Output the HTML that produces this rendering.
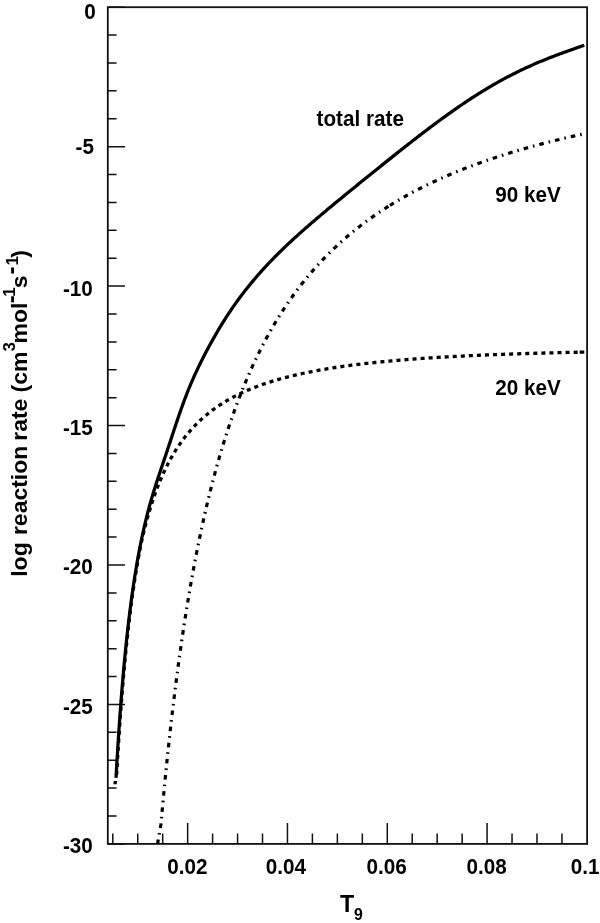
<!DOCTYPE html>
<html><head><meta charset="utf-8"><title>log reaction rate vs T9</title>
<style>
html,body{margin:0;padding:0;background:#fff;}
svg{display:block;font-family:"Liberation Sans",sans-serif;font-weight:bold;fill:#000;}
</style></head><body>
<svg width="600" height="923" viewBox="0 0 600 923">
<rect width="600" height="923" fill="#fff" stroke="none"/>
<rect x="107.8" y="7.2" width="479.30" height="836.70" fill="none" stroke="#111" stroke-width="1.8"/>
<path d="M107.8,7.20h17.2 M107.8,35.09h8.8 M107.8,62.98h8.8 M107.8,90.87h8.8 M107.8,118.76h8.8 M107.8,146.65h17.2 M107.8,174.54h8.8 M107.8,202.43h8.8 M107.8,230.32h8.8 M107.8,258.21h8.8 M107.8,286.10h17.2 M107.8,313.99h8.8 M107.8,341.88h8.8 M107.8,369.77h8.8 M107.8,397.66h8.8 M107.8,425.55h17.2 M107.8,453.44h8.8 M107.8,481.33h8.8 M107.8,509.22h8.8 M107.8,537.11h8.8 M107.8,565.00h17.2 M107.8,592.89h8.8 M107.8,620.78h8.8 M107.8,648.67h8.8 M107.8,676.56h8.8 M107.8,704.45h17.2 M107.8,732.34h8.8 M107.8,760.23h8.8 M107.8,788.12h8.8 M107.8,816.01h8.8 M107.8,843.90h17.2 M112.79,843.9v-10.5 M137.74,843.9v-10.5 M162.70,843.9v-10.5 M187.65,843.9v-21 M212.60,843.9v-10.5 M237.56,843.9v-10.5 M262.51,843.9v-10.5 M287.46,843.9v-21 M312.41,843.9v-10.5 M337.37,843.9v-10.5 M362.32,843.9v-10.5 M387.27,843.9v-21 M412.23,843.9v-10.5 M437.18,843.9v-10.5 M462.13,843.9v-10.5 M487.09,843.9v-21 M512.04,843.9v-10.5 M536.99,843.9v-10.5 M561.94,843.9v-10.5" fill="none" stroke="#111" stroke-width="1.5"/>
<path d="M116.63,774.73 L116.74,772.67 L116.86,770.62 L116.97,768.59 L117.09,766.58 L117.21,764.59 L117.32,762.61 L117.44,760.65 L117.56,758.71 L117.67,756.78 L117.79,754.87 L117.90,752.98 L118.02,751.10 L118.13,749.24 L118.25,747.39 L118.37,745.55 L118.48,743.74 L118.60,741.93 L118.71,740.14 L118.83,738.37 L118.94,736.61 L119.06,734.86 L119.17,733.13 L119.29,731.41 L119.41,729.71 L119.52,728.02 L119.64,726.34 L119.75,724.67 L119.87,723.02 L119.98,721.38 L120.10,719.75 L120.21,718.14 L120.33,716.54 L120.44,714.95 L120.56,713.37 L120.67,711.81 L120.79,710.25 L120.90,708.71 L121.02,707.18 L121.13,705.66 L121.25,704.16 L121.36,702.66 L121.47,701.17 L121.59,699.70 L121.70,698.24 L121.82,696.79 L121.93,695.34 L122.05,693.91 L122.16,692.49 L122.28,691.08 L122.39,689.68 L122.50,688.29 L122.62,686.91 L122.73,685.54 L122.85,684.18 L122.96,682.83 L123.07,681.48 L123.19,680.15 L123.30,678.83 L123.42,677.51 L123.53,676.21 L123.64,674.91 L123.76,673.63 L123.87,672.35 L123.99,671.08 L124.10,669.82 L124.21,668.57 L124.33,667.33 L124.44,666.09 L124.55,664.86 L124.67,663.65 L124.78,662.44 L124.89,661.23 L125.06,659.45 L125.23,657.68 L125.40,655.92 L125.57,654.19 L125.74,652.47 L125.91,650.77 L126.08,649.08 L126.25,647.42 L126.42,645.76 L126.59,644.13 L126.76,642.51 L126.93,640.90 L127.10,639.31 L127.26,637.73 L127.43,636.17 L127.60,634.63 L127.77,633.10 L127.94,631.58 L128.11,630.08 L128.28,628.59 L128.44,627.11 L128.61,625.65 L128.78,624.20 L128.95,622.76 L129.12,621.34 L129.28,619.93 L129.45,618.53 L129.62,617.14 L129.79,615.77 L129.95,614.41 L130.12,613.06 L130.29,611.72 L130.45,610.39 L130.62,609.08 L130.79,607.77 L130.95,606.48 L131.12,605.20 L131.29,603.93 L131.45,602.67 L131.62,601.42 L131.79,600.18 L131.95,598.96 L132.12,597.74 L132.29,596.53 L132.45,595.33 L132.67,593.75 L132.89,592.19 L133.11,590.64 L133.34,589.11 L133.56,587.59 L133.78,586.10 L134.00,584.61 L134.22,583.15 L134.44,581.70 L134.66,580.26 L134.88,578.84 L135.09,577.43 L135.31,576.04 L135.53,574.67 L135.75,573.30 L135.97,571.95 L136.19,570.62 L136.41,569.30 L136.63,567.99 L136.84,566.69 L137.06,565.41 L137.28,564.14 L137.50,562.88 L137.71,561.64 L137.93,560.40 L138.15,559.18 L138.37,557.97 L138.58,556.78 L138.80,555.59 L139.07,554.12 L139.34,552.67 L139.61,551.24 L139.88,549.83 L140.15,548.43 L140.42,547.05 L140.69,545.68 L140.95,544.33 L141.22,542.99 L141.52,541.67 L141.81,540.37 L142.10,539.08 L142.40,537.80 L142.69,536.54 L142.99,535.29 L143.28,534.06 L143.57,532.84 L143.87,531.63 L144.16,530.43 L144.46,529.25 L144.75,528.08 L145.10,526.70 L145.46,525.33 L145.81,523.98 L146.16,522.65 L146.51,521.33 L146.87,520.03 L147.22,518.74 L147.57,517.47 L147.92,516.22 L148.28,514.98 L148.63,513.76 L148.98,512.55 L149.34,511.36 L149.69,510.18 L150.04,509.01 L150.39,507.86 L150.81,506.53 L151.22,505.22 L151.63,503.93 L152.04,502.66 L152.45,501.40 L152.86,500.16 L153.27,498.94 L153.69,497.73 L154.10,496.53 L154.51,495.36 L154.92,494.20 L155.33,493.05 L155.74,491.92 L156.21,490.64 L156.69,489.38 L157.16,488.14 L157.63,486.92 L158.10,485.71 L158.57,484.52 L159.04,483.35 L159.51,482.19 L159.98,481.05 L160.45,479.93 L160.92,478.82 L161.45,477.59 L161.98,476.38 L162.51,475.18 L163.03,474.01 L163.56,472.85 L164.09,471.71 L164.62,470.58 L165.15,469.47 L165.68,468.38 L166.21,467.30 L166.80,466.12 L167.39,464.96 L167.97,463.82 L168.56,462.69 L169.15,461.58 L169.74,460.49 L170.33,459.42 L170.91,458.36 L171.56,457.21 L172.21,456.09 L172.85,454.98 L173.50,453.89 L174.15,452.81 L174.79,451.75 L175.44,450.71 L176.09,449.69 L176.79,448.59 L177.50,447.51 L178.20,446.45 L178.91,445.40 L179.62,444.37 L180.32,443.36 L181.03,442.37 L181.73,441.39 L182.50,440.34 L183.26,439.32 L184.02,438.31 L184.79,437.32 L185.55,436.35 L186.32,435.39 L187.08,434.45 L187.85,433.52 L188.67,432.54 L189.49,431.58 L190.32,430.63 L191.14,429.70 L191.96,428.78 L192.79,427.88 L193.61,427.00 L194.49,426.07 L195.37,425.15 L196.25,424.25 L197.14,423.37 L198.02,422.50 L198.90,421.65 L199.78,420.81 L200.66,419.99 L201.60,419.12 L202.55,418.28 L203.49,417.44 L204.43,416.62 L205.37,415.82 L206.31,415.03 L207.25,414.25 L208.19,413.49 L209.13,412.74 L210.13,411.95 L211.13,411.19 L212.13,410.43 L213.13,409.69 L214.13,408.96 L215.13,408.24 L216.13,407.53 L217.13,406.84 L218.13,406.16 L219.13,405.49 L220.18,404.79 L221.24,404.11 L222.30,403.43 L223.36,402.77 L224.42,402.12 L225.48,401.48 L226.53,400.85 L227.59,400.24 L228.65,399.63 L229.71,399.03 L230.77,398.45 L231.82,397.87 L232.88,397.30 L234.00,396.71 L235.12,396.13 L236.23,395.56 L237.35,395.00 L238.47,394.45 L239.59,393.90 L240.70,393.37 L241.82,392.85 L242.94,392.33 L244.05,391.82 L245.17,391.32 L246.29,390.83 L247.41,390.35 L248.52,389.87 L249.64,389.40 L250.76,388.94 L251.87,388.49 L252.99,388.04 L254.11,387.60 L255.28,387.14 L256.46,386.69 L257.64,386.25 L258.81,385.81 L259.99,385.39 L261.16,384.96 L262.34,384.55 L263.52,384.14 L264.69,383.74 L265.87,383.34 L267.04,382.95 L268.22,382.57 L269.39,382.19 L270.57,381.81 L271.75,381.45 L272.92,381.08 L274.10,380.73 L275.27,380.37 L276.45,380.03 L277.63,379.69 L278.80,379.35 L279.98,379.02 L281.15,378.69 L282.33,378.37 L283.51,378.05 L284.68,377.73 L285.86,377.42 L287.03,377.12 L288.21,376.82 L289.39,376.52 L290.56,376.23 L291.74,375.94 L292.91,375.66 L294.09,375.37 L295.26,375.10 L296.44,374.82 L297.62,374.55 L298.79,374.29 L299.97,374.03 L301.14,373.77 L302.32,373.51 L303.50,373.26 L304.67,373.01 L305.85,372.76 L307.02,372.52 L308.20,372.28 L309.43,372.03 L310.67,371.79 L311.90,371.54 L313.14,371.31 L314.37,371.07 L315.61,370.84 L316.84,370.61 L318.08,370.38 L319.31,370.16 L320.55,369.94 L321.78,369.72 L323.02,369.50 L324.25,369.29 L325.49,369.08 L326.72,368.88 L327.95,368.67 L329.19,368.47 L330.42,368.27 L331.66,368.07 L332.89,367.88 L334.13,367.69 L335.36,367.50 L336.60,367.31 L337.83,367.13 L339.07,366.94 L340.30,366.76 L341.54,366.58 L342.77,366.41 L344.01,366.23 L345.24,366.06 L346.47,365.89 L347.71,365.72 L348.94,365.56 L350.18,365.40 L351.41,365.23 L352.65,365.07 L353.88,364.92 L355.12,364.76 L356.35,364.60 L357.59,364.45 L358.82,364.30 L360.06,364.15 L361.29,364.00 L362.53,363.86 L363.76,363.72 L365.00,363.57 L366.23,363.43 L367.46,363.29 L368.70,363.16 L369.93,363.02 L371.17,362.88 L372.40,362.75 L373.64,362.62 L374.87,362.49 L376.11,362.36 L377.34,362.23 L378.58,362.11 L379.81,361.98 L381.05,361.86 L382.28,361.74 L383.52,361.62 L384.75,361.50 L385.98,361.38 L387.22,361.27 L388.45,361.15 L389.69,361.04 L390.92,360.92 L392.16,360.81 L393.39,360.70 L394.63,360.59 L395.86,360.49 L397.10,360.38 L398.33,360.27 L399.57,360.17 L400.80,360.07 L402.04,359.96 L403.27,359.86 L404.51,359.76 L405.74,359.66 L406.97,359.57 L408.21,359.47 L409.44,359.37 L410.68,359.28 L411.91,359.18 L413.15,359.09 L414.38,359.00 L415.62,358.91 L416.85,358.82 L418.09,358.73 L419.32,358.64 L420.56,358.55 L421.79,358.47 L423.03,358.38 L424.26,358.29 L425.50,358.21 L426.73,358.13 L427.96,358.05 L429.20,357.96 L430.43,357.88 L431.67,357.80 L432.90,357.72 L434.14,357.65 L435.37,357.57 L436.61,357.49 L437.84,357.42 L439.08,357.34 L440.31,357.27 L441.55,357.19 L442.78,357.12 L444.02,357.05 L445.25,356.98 L446.48,356.91 L447.72,356.84 L448.95,356.77 L450.19,356.70 L451.42,356.63 L452.66,356.56 L453.89,356.50 L455.13,356.43 L456.36,356.37 L457.60,356.30 L458.83,356.24 L460.07,356.17 L461.30,356.11 L462.54,356.05 L463.77,355.99 L465.01,355.93 L466.24,355.87 L467.47,355.81 L468.71,355.75 L469.94,355.69 L471.18,355.63 L472.41,355.57 L473.65,355.52 L474.88,355.46 L476.12,355.40 L477.35,355.35 L478.59,355.29 L479.82,355.24 L481.06,355.19 L482.29,355.13 L483.53,355.08 L484.76,355.03 L486.00,354.98 L487.23,354.92 L488.46,354.87 L489.70,354.82 L490.93,354.77 L492.17,354.72 L493.40,354.68 L494.64,354.63 L495.87,354.58 L497.11,354.53 L498.34,354.48 L499.58,354.44 L500.81,354.39 L502.05,354.35 L503.28,354.30 L504.52,354.26 L505.75,354.21 L506.98,354.17 L508.22,354.12 L509.45,354.08 L510.69,354.04 L511.92,354.00 L513.16,353.95 L514.39,353.91 L515.63,353.87 L516.86,353.83 L518.10,353.79 L519.33,353.75 L520.57,353.71 L521.80,353.67 L523.04,353.63 L524.27,353.59 L525.51,353.56 L526.74,353.52 L527.97,353.48 L529.21,353.44 L530.44,353.41 L531.68,353.37 L532.91,353.33 L534.15,353.30 L535.38,353.26 L536.62,353.23 L537.85,353.19 L539.09,353.16 L540.32,353.12 L541.56,353.09 L542.79,353.06 L544.03,353.02 L545.26,352.99 L546.49,352.96 L547.73,352.93 L548.96,352.89 L550.20,352.86 L551.43,352.83 L552.67,352.80 L553.90,352.77 L555.14,352.74 L556.37,352.71 L557.61,352.68 L558.84,352.65 L560.08,352.62 L561.31,352.59 L562.55,352.56 L563.78,352.53 L565.02,352.51 L566.25,352.48 L567.48,352.45 L568.72,352.42 L569.95,352.40 L571.19,352.37 L572.42,352.34 L573.66,352.32 L574.89,352.29 L576.13,352.26 L577.36,352.24 L578.19,352.22" fill="none" stroke="#000" stroke-width="3.3" stroke-dasharray="4.0310 4.0310" stroke-dashoffset="0.237"/>
<path d="M579.66,352.19 L580.89,352.17 L582.12,352.14 L583.36,352.12 L584.30,352.10" fill="none" stroke="#000" stroke-width="3.3"/>
<path d="M115.12,784.24 L115.24,782.10 L115.30,781.03" fill="none" stroke="#000" stroke-width="3.3"/>
<path d="M157.72,843.44 L157.83,842.18 L158.03,840.91 L158.25,839.65 L158.47,838.40 L158.69,837.14 L158.90,835.90 L159.12,834.65 L159.34,833.41 L159.55,832.17 L159.77,830.94 L159.99,829.71 L160.20,828.48 L160.42,827.26 L160.63,826.04 L160.85,824.82 L161.03,823.61 L161.13,822.40 L161.24,821.20 L161.35,820.00 L161.45,818.80 L161.61,817.01 L161.77,815.22 L161.93,813.45 L162.09,811.68 L162.25,809.92 L162.41,808.17 L162.57,806.43 L162.73,804.69 L162.89,802.96 L163.05,801.24 L163.21,799.52 L163.37,797.82 L163.53,796.12 L163.69,794.42 L163.85,792.74 L164.01,791.06 L164.17,789.39 L164.33,787.72 L164.49,786.07 L164.65,784.42 L164.81,782.77 L164.97,781.14 L165.13,779.51 L165.29,777.89 L165.45,776.27 L165.61,774.66 L165.77,773.06 L165.93,771.46 L166.09,769.87 L166.25,768.29 L166.41,766.71 L166.57,765.14 L166.73,763.58 L166.89,762.02 L167.04,760.47 L167.20,758.93 L167.36,757.39 L167.52,755.86 L167.68,754.33 L167.84,752.81 L168.00,751.30 L168.16,749.79 L168.32,748.29 L168.48,746.80 L168.64,745.31 L168.80,743.83 L168.96,742.35 L169.12,740.88 L169.28,739.41 L169.44,737.95 L169.60,736.50 L169.76,735.05 L169.92,733.61 L170.08,732.17 L170.24,730.74 L170.40,729.31 L170.56,727.89 L170.72,726.48 L170.88,725.07 L171.04,723.67 L171.20,722.27 L171.36,720.88 L171.52,719.49 L171.68,718.11 L171.84,716.73 L172.00,715.36 L172.16,713.99 L172.32,712.63 L172.48,711.28 L172.64,709.93 L172.80,708.58 L172.96,707.24 L173.12,705.91 L173.28,704.58 L173.44,703.25 L173.60,701.93 L173.76,700.62 L173.91,699.31 L174.07,698.00 L174.23,696.70 L174.39,695.40 L174.55,694.11 L174.71,692.83 L174.87,691.55 L175.03,690.27 L175.19,689.00 L175.35,687.73 L175.51,686.47 L175.67,685.21 L175.83,683.96 L175.99,682.71 L176.15,681.47 L176.31,680.23 L176.47,679.00 L176.63,677.77 L176.79,676.54 L176.95,675.32 L177.11,674.10 L177.27,672.89 L177.43,671.68 L177.59,670.48 L177.75,669.28 L177.91,668.08 L178.07,666.89 L178.28,665.31 L178.49,663.74 L178.71,662.17 L178.92,660.61 L179.13,659.06 L179.35,657.52 L179.56,655.98 L179.77,654.45 L179.99,652.93 L180.20,651.42 L180.41,649.91 L180.63,648.41 L180.84,646.91 L181.05,645.43 L181.26,643.95 L181.48,642.47 L181.69,641.01 L181.90,639.55 L182.12,638.09 L182.33,636.65 L182.54,635.21 L182.76,633.78 L182.97,632.35 L183.18,630.93 L183.39,629.51 L183.61,628.11 L183.82,626.71 L184.03,625.31 L184.25,623.92 L184.46,622.54 L184.67,621.16 L184.89,619.79 L185.10,618.43 L185.31,617.07 L185.52,615.72 L185.74,614.37 L185.95,613.03 L186.16,611.70 L186.38,610.37 L186.59,609.05 L186.80,607.73 L187.02,606.42 L187.23,605.12 L187.44,603.82 L187.66,602.52 L187.87,601.23 L188.08,599.95 L188.29,598.67 L188.51,597.40 L188.72,596.14 L188.93,594.87 L189.15,593.62 L189.36,592.37 L189.57,591.12 L189.79,589.88 L190.00,588.65 L190.21,587.42 L190.42,586.20 L190.64,584.98 L190.85,583.76 L191.06,582.56 L191.28,581.35 L191.49,580.15 L191.70,578.96 L191.92,577.77 L192.13,576.59 L192.39,575.11 L192.66,573.65 L192.93,572.19 L193.19,570.74 L193.46,569.30 L193.73,567.86 L193.99,566.44 L194.26,565.02 L194.53,563.60 L194.79,562.20 L195.06,560.80 L195.32,559.40 L195.59,558.02 L195.86,556.64 L196.12,555.27 L196.39,553.91 L196.66,552.55 L196.92,551.20 L197.19,549.85 L197.45,548.51 L197.72,547.18 L197.99,545.86 L198.25,544.54 L198.52,543.23 L198.79,541.92 L199.05,540.63 L199.32,539.33 L199.58,538.05 L199.85,536.77 L200.12,535.49 L200.38,534.23 L200.65,532.96 L200.92,531.71 L201.18,530.46 L201.45,529.21 L201.71,527.98 L201.98,526.75 L202.25,525.52 L202.51,524.30 L202.78,523.08 L203.05,521.88 L203.31,520.67 L203.58,519.47 L203.85,518.28 L204.11,517.10 L204.38,515.92 L204.64,514.74 L204.96,513.34 L205.28,511.94 L205.60,510.55 L205.92,509.17 L206.24,507.80 L206.56,506.44 L206.88,505.08 L207.20,503.73 L207.52,502.39 L207.84,501.05 L208.16,499.72 L208.48,498.40 L208.80,497.09 L209.12,495.78 L209.44,494.48 L209.76,493.19 L210.08,491.90 L210.40,490.62 L210.72,489.35 L211.03,488.08 L211.35,486.82 L211.67,485.57 L211.99,484.33 L212.31,483.09 L212.63,481.85 L212.95,480.63 L213.27,479.41 L213.59,478.19 L213.91,476.99 L214.23,475.78 L214.55,474.59 L214.87,473.40 L215.19,472.22 L215.51,471.04 L215.83,469.87 L216.15,468.70 L216.47,467.54 L216.84,466.20 L217.21,464.86 L217.59,463.53 L217.96,462.21 L218.33,460.90 L218.70,459.59 L219.08,458.29 L219.45,457.00 L219.82,455.72 L220.19,454.44 L220.57,453.17 L220.94,451.91 L221.31,450.66 L221.69,449.41 L222.06,448.17 L222.43,446.94 L222.80,445.71 L223.18,444.49 L223.55,443.28 L223.92,442.07 L224.30,440.87 L224.67,439.68 L225.04,438.50 L225.41,437.32 L225.79,436.14 L226.16,434.98 L226.53,433.82 L226.91,432.66 L227.28,431.52 L227.65,430.38 L228.08,429.08 L228.50,427.79 L228.93,426.51 L229.36,425.24 L229.78,423.97 L230.21,422.72 L230.63,421.47 L231.06,420.23 L231.49,418.99 L231.91,417.77 L232.34,416.55 L232.76,415.33 L233.19,414.13 L233.62,412.93 L234.04,411.74 L234.47,410.56 L234.89,409.38 L235.32,408.21 L235.75,407.05 L236.17,405.89 L236.60,404.74 L237.02,403.60 L237.45,402.47 L237.88,401.34 L238.30,400.22 L238.78,398.96 L239.26,397.71 L239.74,396.48 L240.22,395.24 L240.70,394.02 L241.18,392.81 L241.66,391.60 L242.14,390.40 L242.62,389.21 L243.10,388.02 L243.57,386.85 L244.05,385.68 L244.53,384.51 L245.01,383.36 L245.49,382.21 L245.97,381.07 L246.45,379.94 L246.93,378.81 L247.41,377.69 L247.89,376.58 L248.37,375.47 L248.90,374.25 L249.43,373.04 L249.97,371.83 L250.50,370.64 L251.03,369.45 L251.56,368.27 L252.10,367.09 L252.63,365.93 L253.16,364.77 L253.69,363.62 L254.23,362.48 L254.76,361.34 L255.29,360.22 L255.82,359.10 L256.36,357.98 L256.89,356.88 L257.42,355.78 L257.95,354.69 L258.49,353.60 L259.02,352.53 L259.60,351.35 L260.19,350.18 L260.78,349.02 L261.36,347.87 L261.95,346.72 L262.53,345.59 L263.12,344.46 L263.71,343.33 L264.29,342.22 L264.88,341.11 L265.46,340.02 L266.05,338.92 L266.63,337.84 L267.22,336.76 L267.81,335.69 L268.39,334.63 L268.98,333.58 L269.56,332.53 L270.20,331.39 L270.84,330.26 L271.48,329.15 L272.12,328.03 L272.76,326.93 L273.40,325.83 L274.04,324.75 L274.68,323.67 L275.32,322.59 L275.95,321.53 L276.59,320.47 L277.23,319.42 L277.87,318.38 L278.51,317.34 L279.15,316.31 L279.79,315.29 L280.48,314.19 L281.17,313.10 L281.87,312.02 L282.56,310.94 L283.25,309.87 L283.94,308.81 L284.64,307.76 L285.33,306.72 L286.02,305.68 L286.71,304.65 L287.40,303.63 L288.10,302.61 L288.79,301.61 L289.48,300.61 L290.17,299.61 L290.87,298.63 L291.61,297.57 L292.36,296.53 L293.10,295.49 L293.85,294.46 L294.59,293.43 L295.34,292.42 L296.09,291.41 L296.83,290.41 L297.58,289.42 L298.32,288.43 L299.07,287.45 L299.81,286.48 L300.56,285.51 L301.30,284.56 L302.05,283.61 L302.80,282.66 L303.59,281.66 L304.39,280.66 L305.19,279.67 L305.99,278.69 L306.79,277.72 L307.59,276.75 L308.39,275.79 L309.19,274.84 L309.99,273.89 L310.78,272.96 L311.58,272.02 L312.38,271.10 L313.18,270.18 L313.98,269.27 L314.78,268.37 L315.58,267.47 L316.43,266.52 L317.28,265.58 L318.13,264.64 L318.99,263.71 L319.84,262.79 L320.69,261.88 L321.54,260.97 L322.39,260.07 L323.25,259.17 L324.10,258.29 L324.95,257.41 L325.80,256.53 L326.66,255.66 L327.51,254.80 L328.36,253.95 L329.21,253.10 L330.12,252.20 L331.02,251.32 L331.93,250.43 L332.83,249.56 L333.74,248.69 L334.64,247.83 L335.55,246.98 L336.45,246.13 L337.36,245.29 L338.26,244.45 L339.17,243.62 L340.08,242.80 L340.98,241.98 L341.89,241.17 L342.79,240.37 L343.70,239.57 L344.60,238.77 L345.56,237.94 L346.52,237.11 L347.48,236.29 L348.44,235.48 L349.40,234.67 L350.35,233.87 L351.31,233.07 L352.27,232.28 L353.23,231.50 L354.19,230.72 L355.15,229.95 L356.11,229.18 L357.06,228.42 L358.02,227.67 L358.98,226.92 L359.94,226.17 L360.90,225.43 L361.86,224.70 L362.82,223.97 L363.77,223.25 L364.79,222.49 L365.80,221.74 L366.81,221.00 L367.82,220.26 L368.83,219.52 L369.85,218.79 L370.86,218.07 L371.87,217.35 L372.88,216.64 L373.89,215.93 L374.91,215.23 L375.92,214.53 L376.93,213.84 L377.94,213.15 L378.95,212.47 L379.96,211.79 L380.98,211.12 L381.99,210.45 L383.00,209.79 L384.01,209.13 L385.02,208.48 L386.04,207.83 L387.10,207.15 L388.17,206.48 L388.81,206.08" fill="none" stroke="#000" stroke-width="3.2" stroke-dasharray="4.6 5.011 1.6 5.011" stroke-dashoffset="0.550"/>
<path d="M389.87,205.41 L390.94,204.75 L392.00,204.10 L393.07,203.45 L394.13,202.80 L395.20,202.16 L396.26,201.53 L397.33,200.90 L398.39,200.27 L399.46,199.65 L400.52,199.03 L401.59,198.41 L402.65,197.81 L403.72,197.20 L404.78,196.60 L405.85,196.00 L406.91,195.41 L407.98,194.82 L409.04,194.24 L410.11,193.66 L411.17,193.08 L412.24,192.51 L413.30,191.94 L414.37,191.38 L415.43,190.82 L416.50,190.26 L417.62,189.68 L418.74,189.11 L419.85,188.53 L420.97,187.97 L422.09,187.40 L423.21,186.84 L424.33,186.29 L425.45,185.73 L426.56,185.19 L427.68,184.64 L428.80,184.10 L429.92,183.56 L431.04,183.03 L432.16,182.50 L433.27,181.98 L434.39,181.45 L435.51,180.93 L436.63,180.42 L437.75,179.91 L438.87,179.40 L439.99,178.89 L441.10,178.39 L442.22,177.89 L443.34,177.40 L444.46,176.91 L445.58,176.42 L446.70,175.93 L447.81,175.45 L448.93,174.97 L450.05,174.50 L451.17,174.02 L452.29,173.55 L453.41,173.09 L454.52,172.62 L455.64,172.16 L456.76,171.71 L457.88,171.25 L459.00,170.80 L460.12,170.35 L461.23,169.91 L462.35,169.46 L463.47,169.02 L464.59,168.58 L465.76,168.13 L466.93,167.68 L468.10,167.23 L469.28,166.78 L470.45,166.34 L471.62,165.90 L472.79,165.46 L473.96,165.02 L475.13,164.59 L476.31,164.16 L477.48,163.73 L478.65,163.31 L479.82,162.89 L480.99,162.47 L482.16,162.05 L483.34,161.64 L484.51,161.23 L485.68,160.82 L486.85,160.42 L488.02,160.01 L489.19,159.61 L490.37,159.21 L491.54,158.82 L492.71,158.42 L493.88,158.03 L495.05,157.65 L496.22,157.26 L497.40,156.88 L498.57,156.49 L499.74,156.12 L500.91,155.74 L502.08,155.36 L503.25,154.99 L504.43,154.62 L505.60,154.25 L506.77,153.89 L507.94,153.53 L509.11,153.16 L510.28,152.81 L511.46,152.45 L512.63,152.09 L513.80,151.74 L514.97,151.39 L516.14,151.04 L517.31,150.69 L518.49,150.35 L519.66,150.01 L520.83,149.67 L522.00,149.33 L523.17,148.99 L524.34,148.66 L525.52,148.32 L526.69,147.99 L527.86,147.66 L529.03,147.34 L530.20,147.01 L531.37,146.69 L532.55,146.37 L533.72,146.05 L534.89,145.73 L536.06,145.41 L537.23,145.10 L538.40,144.79 L539.58,144.48 L540.75,144.17 L541.92,143.86 L543.09,143.55 L544.26,143.25 L545.43,142.95 L546.61,142.65 L547.78,142.35 L548.95,142.05 L550.12,141.75 L551.29,141.46 L552.46,141.17 L553.63,140.88 L554.81,140.59 L555.98,140.30 L557.15,140.01 L558.32,139.73 L559.49,139.44 L560.66,139.16 L561.84,138.88 L563.01,138.60 L564.18,138.33 L565.35,138.05 L566.52,137.78 L567.69,137.50 L568.87,137.23 L570.04,136.96 L571.21,136.69 L572.38,136.43 L573.55,136.16 L574.72,135.90 L575.90,135.63 L577.07,135.37 L578.24,135.11 L579.46,134.84 L580.69,134.57 L581.91,134.30 L582.50,134.18" fill="none" stroke="#000" stroke-width="3.2" stroke-dasharray="4.6 5.000 1.6 5.000" stroke-dashoffset="0.047"/>
<path d="M116.00,777.90 L116.12,775.79 L116.23,773.69 L116.35,771.61 L116.47,769.55 L116.59,767.51 L116.70,765.48 L116.82,763.47 L116.94,761.48 L117.06,759.50 L117.18,757.54 L117.29,755.60 L117.41,753.67 L117.53,751.75 L117.65,749.86 L117.76,747.97 L117.88,746.10 L118.00,744.25 L118.12,742.41 L118.23,740.59 L118.35,738.78 L118.47,736.98 L118.59,735.20 L118.70,733.44 L118.82,731.68 L118.94,729.94 L119.06,728.21 L119.17,726.50 L119.29,724.80 L119.41,723.11 L119.53,721.44 L119.65,719.77 L119.76,718.12 L119.88,716.49 L120.00,714.86 L120.12,713.25 L120.23,711.65 L120.35,710.06 L120.47,708.48 L120.59,706.91 L120.70,705.36 L120.82,703.82 L120.94,702.28 L121.06,700.76 L121.17,699.25 L121.29,697.75 L121.41,696.26 L121.53,694.79 L121.64,693.32 L121.76,691.86 L121.88,690.41 L122.00,688.98 L122.11,687.55 L122.23,686.13 L122.35,684.73 L122.47,683.33 L122.59,681.94 L122.70,680.57 L122.82,679.20 L122.94,677.84 L123.06,676.49 L123.17,675.15 L123.29,673.82 L123.41,672.49 L123.53,671.18 L123.64,669.88 L123.76,668.58 L123.88,667.29 L124.00,666.02 L124.11,664.74 L124.23,663.48 L124.35,662.23 L124.47,660.98 L124.58,659.75 L124.70,658.52 L124.82,657.30 L124.94,656.08 L125.05,654.88 L125.17,653.68 L125.41,651.31 L125.64,648.97 L125.88,646.66 L126.11,644.37 L126.35,642.12 L126.58,639.89 L126.82,637.69 L127.05,635.52 L127.29,633.38 L127.52,631.26 L127.76,629.16 L127.99,627.10 L128.23,625.05 L128.47,623.03 L128.70,621.04 L128.94,619.07 L129.17,617.12 L129.41,615.19 L129.64,613.29 L129.88,611.40 L130.11,609.54 L130.35,607.70 L130.58,605.88 L130.82,604.09 L131.05,602.31 L131.29,600.55 L131.52,598.81 L131.76,597.09 L131.99,595.39 L132.23,593.71 L132.46,592.04 L132.70,590.40 L132.93,588.77 L133.17,587.16 L133.40,585.56 L133.64,583.99 L133.88,582.43 L134.11,580.88 L134.35,579.35 L134.58,577.84 L134.82,576.34 L135.05,574.86 L135.29,573.40 L135.52,571.94 L135.76,570.51 L135.99,569.09 L136.23,567.68 L136.46,566.28 L136.70,564.90 L136.93,563.54 L137.17,562.18 L137.40,560.84 L137.64,559.52 L137.87,558.20 L138.11,556.90 L138.34,555.61 L138.58,554.34 L138.81,553.07 L139.05,551.82 L139.28,550.58 L139.52,549.35 L139.76,548.13 L139.99,546.93 L140.23,545.73 L140.46,544.55 L140.81,542.79 L141.17,541.06 L141.52,539.35 L141.87,537.67 L142.23,536.00 L142.58,534.36 L142.93,532.74 L143.28,531.14 L143.64,529.56 L143.99,528.01 L144.34,526.47 L144.69,524.95 L145.05,523.45 L145.40,521.97 L145.75,520.51 L146.11,519.06 L146.46,517.63 L146.81,516.22 L147.16,514.83 L147.52,513.45 L147.87,512.09 L148.22,510.74 L148.58,509.41 L148.93,508.09 L149.28,506.79 L149.63,505.50 L149.99,504.22 L150.34,502.96 L150.69,501.71 L151.05,500.48 L151.40,499.25 L151.75,498.04 L152.10,496.84 L152.46,495.65 L152.81,494.47 L153.16,493.30 L153.52,492.14 L153.87,490.99 L154.34,489.47 L154.81,487.97 L155.28,486.48 L155.75,485.00 L156.22,483.53 L156.69,482.08 L157.16,480.64 L157.63,479.20 L158.10,477.78 L158.57,476.36 L159.04,474.95 L159.51,473.54 L159.98,472.14 L160.45,470.74 L160.92,469.35 L161.39,467.95 L161.86,466.56 L162.34,465.17 L162.81,463.78 L163.28,462.39 L163.75,460.99 L164.22,459.60 L164.69,458.20 L165.16,456.80 L165.63,455.40 L166.10,453.99 L166.57,452.59 L167.04,451.17 L167.51,449.76 L167.98,448.34 L168.45,446.92 L168.92,445.50 L169.39,444.08 L169.86,442.65 L170.33,441.22 L170.80,439.80 L171.27,438.37 L171.74,436.94 L172.21,435.51 L172.68,434.08 L173.16,432.66 L173.63,431.23 L174.10,429.81 L174.57,428.39 L175.04,426.98 L175.51,425.57 L175.98,424.16 L176.45,422.75 L176.92,421.36 L177.39,419.96 L177.86,418.58 L178.33,417.19 L178.80,415.82 L179.27,414.46 L179.74,413.10 L180.21,411.75 L180.68,410.41 L181.15,409.08 L181.62,407.75 L182.09,406.44 L182.56,405.14 L183.03,403.85 L183.50,402.57 L183.97,401.29 L184.45,400.03 L184.92,398.78 L185.39,397.54 L185.86,396.31 L186.33,395.10 L186.80,393.89 L187.27,392.69 L187.74,391.51 L188.21,390.33 L188.68,389.17 L189.15,388.01 L189.62,386.87 L190.09,385.73 L190.56,384.61 L191.03,383.49 L191.50,382.39 L192.09,381.02 L192.68,379.67 L193.27,378.33 L193.85,377.01 L194.44,375.70 L195.03,374.40 L195.62,373.11 L196.21,371.84 L196.79,370.58 L197.38,369.33 L197.97,368.09 L198.56,366.86 L199.15,365.64 L199.73,364.44 L200.32,363.24 L200.91,362.05 L201.50,360.87 L202.09,359.70 L202.67,358.54 L203.26,357.39 L203.85,356.24 L204.44,355.10 L205.03,353.97 L205.61,352.85 L206.20,351.73 L206.79,350.62 L207.38,349.51 L207.97,348.42 L208.55,347.33 L209.14,346.24 L209.73,345.16 L210.32,344.09 L210.91,343.02 L211.49,341.96 L212.08,340.90 L212.67,339.85 L213.38,338.59 L214.08,337.35 L214.79,336.11 L215.49,334.88 L216.20,333.66 L216.90,332.45 L217.61,331.24 L218.32,330.04 L219.02,328.86 L219.73,327.68 L220.43,326.51 L221.14,325.34 L221.84,324.19 L222.55,323.05 L223.25,321.92 L223.96,320.79 L224.67,319.67 L225.37,318.56 L226.08,317.46 L226.78,316.37 L227.49,315.29 L228.19,314.21 L228.90,313.15 L229.61,312.09 L230.31,311.04 L231.02,309.99 L231.72,308.96 L232.43,307.93 L233.13,306.91 L233.84,305.90 L234.54,304.89 L235.25,303.89 L235.96,302.90 L236.66,301.92 L237.37,300.94 L238.19,299.81 L239.01,298.69 L239.84,297.57 L240.66,296.47 L241.48,295.37 L242.31,294.28 L243.13,293.21 L243.95,292.14 L244.78,291.08 L245.60,290.02 L246.42,288.98 L247.25,287.94 L248.07,286.91 L248.89,285.89 L249.72,284.87 L250.54,283.87 L251.36,282.87 L252.19,281.87 L253.01,280.89 L253.83,279.91 L254.65,278.94 L255.48,277.97 L256.30,277.01 L257.12,276.06 L257.95,275.12 L258.77,274.18 L259.59,273.25 L260.42,272.32 L261.24,271.40 L262.06,270.48 L262.89,269.57 L263.71,268.67 L264.53,267.77 L265.36,266.88 L266.18,265.99 L267.00,265.11 L267.83,264.24 L268.77,263.24 L269.71,262.25 L270.65,261.27 L271.59,260.29 L272.53,259.32 L273.47,258.36 L274.41,257.40 L275.35,256.45 L276.29,255.50 L277.23,254.56 L278.18,253.62 L279.12,252.69 L280.06,251.77 L281.00,250.85 L281.94,249.93 L282.88,249.02 L283.82,248.11 L284.76,247.21 L285.70,246.31 L286.64,245.42 L287.58,244.53 L288.52,243.64 L289.47,242.76 L290.41,241.89 L291.35,241.01 L292.29,240.14 L293.23,239.28 L294.17,238.42 L295.11,237.56 L296.05,236.70 L296.99,235.85 L297.93,235.00 L298.87,234.16 L299.81,233.31 L300.76,232.47 L301.70,231.64 L302.64,230.80 L303.58,229.97 L304.52,229.14 L305.46,228.31 L306.40,227.49 L307.34,226.67 L308.28,225.85 L309.22,225.03 L310.16,224.22 L311.10,223.40 L312.05,222.59 L312.99,221.78 L313.93,220.98 L314.87,220.17 L315.81,219.37 L316.75,218.57 L317.69,217.77 L318.63,216.97 L319.57,216.17 L320.51,215.38 L321.45,214.58 L322.39,213.79 L323.34,213.00 L324.28,212.21 L325.22,211.42 L326.16,210.64 L327.10,209.85 L328.04,209.07 L328.98,208.28 L329.92,207.50 L330.86,206.72 L331.80,205.94 L332.74,205.16 L333.69,204.38 L334.63,203.60 L335.57,202.83 L336.51,202.05 L337.45,201.27 L338.39,200.50 L339.33,199.73 L340.27,198.95 L341.21,198.18 L342.15,197.41 L343.09,196.64 L344.03,195.87 L344.98,195.10 L345.92,194.33 L346.86,193.56 L347.80,192.79 L348.74,192.02 L349.68,191.26 L350.62,190.49 L351.56,189.72 L352.50,188.96 L353.44,188.19 L354.38,187.43 L355.32,186.66 L356.27,185.90 L357.21,185.13 L358.15,184.37 L359.09,183.61 L360.03,182.84 L360.97,182.08 L361.91,181.32 L362.85,180.56 L363.79,179.79 L364.73,179.03 L365.67,178.27 L366.61,177.51 L367.56,176.75 L368.50,175.99 L369.44,175.23 L370.38,174.47 L371.32,173.71 L372.26,172.96 L373.20,172.20 L374.14,171.44 L375.08,170.68 L376.02,169.92 L376.96,169.17 L377.90,168.41 L378.85,167.65 L379.79,166.90 L380.73,166.14 L381.67,165.39 L382.61,164.63 L383.55,163.88 L384.49,163.13 L385.43,162.37 L386.37,161.62 L387.31,160.87 L388.25,160.12 L389.19,159.37 L390.14,158.61 L391.08,157.86 L392.02,157.12 L392.96,156.37 L393.90,155.62 L394.84,154.87 L395.78,154.12 L396.72,153.38 L397.66,152.63 L398.60,151.88 L399.66,151.05 L400.72,150.21 L401.78,149.38 L402.84,148.54 L403.89,147.71 L404.95,146.87 L406.01,146.04 L407.07,145.21 L408.13,144.38 L409.19,143.55 L410.25,142.73 L411.30,141.90 L412.36,141.08 L413.42,140.25 L414.48,139.43 L415.54,138.61 L416.60,137.79 L417.65,136.98 L418.71,136.16 L419.77,135.35 L420.83,134.53 L421.89,133.72 L422.95,132.91 L424.01,132.11 L425.06,131.30 L426.12,130.49 L427.18,129.69 L428.24,128.89 L429.30,128.09 L430.36,127.30 L431.41,126.50 L432.47,125.71 L433.53,124.92 L434.59,124.13 L435.65,123.34 L436.71,122.56 L437.76,121.78 L438.82,121.00 L439.88,120.22 L440.94,119.44 L442.00,118.67 L443.06,117.90 L444.12,117.13 L445.17,116.37 L446.23,115.61 L447.29,114.85 L448.35,114.09 L449.41,113.33 L450.47,112.58 L451.52,111.83 L452.58,111.08 L453.64,110.34 L454.70,109.60 L455.76,108.86 L456.82,108.13 L457.88,107.39 L458.93,106.67 L459.99,105.94 L461.05,105.22 L462.11,104.50 L463.17,103.78 L464.23,103.07 L465.28,102.36 L466.34,101.65 L467.40,100.95 L468.46,100.25 L469.52,99.55 L470.58,98.86 L471.63,98.17 L472.69,97.48 L473.75,96.80 L474.81,96.12 L475.87,95.44 L476.93,94.77 L477.99,94.10 L479.04,93.44 L480.10,92.77 L481.16,92.12 L482.22,91.46 L483.28,90.81 L484.34,90.17 L485.39,89.52 L486.45,88.88 L487.51,88.25 L488.57,87.62 L489.63,86.99 L490.69,86.37 L491.75,85.75 L492.80,85.13 L493.86,84.52 L494.92,83.91 L495.98,83.31 L497.04,82.71 L498.10,82.11 L499.15,81.52 L500.21,80.93 L501.27,80.35 L502.33,79.77 L503.39,79.19 L504.45,78.62 L505.51,78.05 L506.68,77.43 L507.86,76.81 L509.03,76.19 L510.21,75.58 L511.39,74.97 L512.56,74.37 L513.74,73.77 L514.91,73.18 L516.09,72.60 L517.27,72.01 L518.44,71.44 L519.62,70.87 L520.79,70.30 L521.97,69.74 L523.15,69.18 L524.32,68.63 L525.50,68.08 L526.67,67.54 L527.85,67.00 L529.03,66.46 L530.20,65.93 L531.38,65.41 L532.55,64.89 L533.73,64.37 L534.91,63.86 L536.08,63.35 L537.26,62.85 L538.43,62.35 L539.61,61.86 L540.79,61.37 L541.96,60.88 L543.14,60.40 L544.31,59.92 L545.49,59.45 L546.67,58.98 L547.84,58.51 L549.02,58.04 L550.19,57.58 L551.37,57.13 L552.55,56.67 L553.72,56.22 L554.90,55.78 L556.07,55.33 L557.25,54.89 L558.43,54.45 L559.60,54.02 L560.78,53.58 L561.96,53.15 L563.13,52.72 L564.31,52.30 L565.48,51.87 L566.66,51.45 L567.84,51.03 L569.01,50.61 L570.19,50.19 L571.36,49.77 L572.54,49.36 L573.72,48.94 L574.89,48.53 L576.07,48.12 L577.24,47.71 L578.42,47.29 L579.60,46.88 L580.77,46.47 L581.95,46.06 L583.12,45.65 L584.30,45.23" fill="none" stroke="#000" stroke-width="3.25" stroke-linejoin="round"/>
<text transform="translate(95.8,19.35) scale(1,1.065)" text-anchor="end" font-size="20.7">0</text>
<text transform="translate(93.9,154.2) scale(1,1.065)" text-anchor="end" font-size="20.7">-5</text>
<text transform="translate(92.8,295.5) scale(1,1.065)" text-anchor="end" font-size="20.7">-10</text>
<text transform="translate(92.8,435.2) scale(1,1.065)" text-anchor="end" font-size="20.7">-15</text>
<text transform="translate(92.8,574.3) scale(1,1.065)" text-anchor="end" font-size="20.7">-20</text>
<text transform="translate(92.8,714.0) scale(1,1.065)" text-anchor="end" font-size="20.7">-25</text>
<text transform="translate(92.8,853.0) scale(1,1.065)" text-anchor="end" font-size="20.7">-30</text>
<text transform="translate(187.45,873.8) scale(1,1.065)" text-anchor="middle" font-size="20.7">0.02</text>
<text transform="translate(285.86,873.8) scale(1,1.065)" text-anchor="middle" font-size="20.7">0.04</text>
<text transform="translate(386.57,873.8) scale(1,1.065)" text-anchor="middle" font-size="20.7">0.06</text>
<text transform="translate(486.59,873.8) scale(1,1.065)" text-anchor="middle" font-size="20.7">0.08</text>
<text transform="translate(599.5,873.8) scale(1,1.065)" text-anchor="end" font-size="20.7">0.1</text>
<text transform="translate(316.5,126.1) scale(1,1.06)" font-size="20.7">total rate</text>
<text transform="translate(495.3,202.0) scale(1,1.06)" font-size="20.7">90 keV</text>
<text transform="translate(495.3,395.0) scale(1,1.06)" font-size="20.7">20 keV</text>
<text transform="translate(339.9,912.1) scale(1,1.04)" font-size="23.3">T<tspan font-size="15.8" dy="7.7" dx="-0.1">9</tspan></text>
<text transform="translate(26.50,576.80) rotate(-90) scale(1,0.975)" font-size="23.0">log</text>
<text transform="translate(26.50,535.10) rotate(-90) scale(1,0.975)" font-size="23.0">reaction</text>
<text transform="translate(26.50,440.80) rotate(-90) scale(1,0.975)" font-size="23.0">rate</text>
<text transform="translate(26.50,392.40) rotate(-90) scale(1,0.975)" font-size="23.0">(cm</text>
<text transform="translate(15.00,351.60) rotate(-90) scale(1,0.975)" font-size="16.8">3</text>
<text transform="translate(26.50,343.50) rotate(-90) scale(1,0.975)" font-size="23.0">mol</text>
<text transform="translate(19.30,303.25) rotate(-90) scale(1,0.975)" font-size="24">-</text>
<text transform="translate(15.20,296.65) rotate(-90) scale(1,0.975)" font-size="16.8">1</text>
<text transform="translate(26.50,288.30) rotate(-90) scale(1,0.975)" font-size="23.0">s</text>
<text transform="translate(19.30,274.50) rotate(-90) scale(1,0.975)" font-size="24">-</text>
<text transform="translate(18.20,265.60) rotate(-90) scale(1,0.975)" font-size="16.8">1</text>
<text transform="translate(26.50,257.70) rotate(-90) scale(1,0.975)" font-size="23.0">)</text>
</svg>
</body></html>
